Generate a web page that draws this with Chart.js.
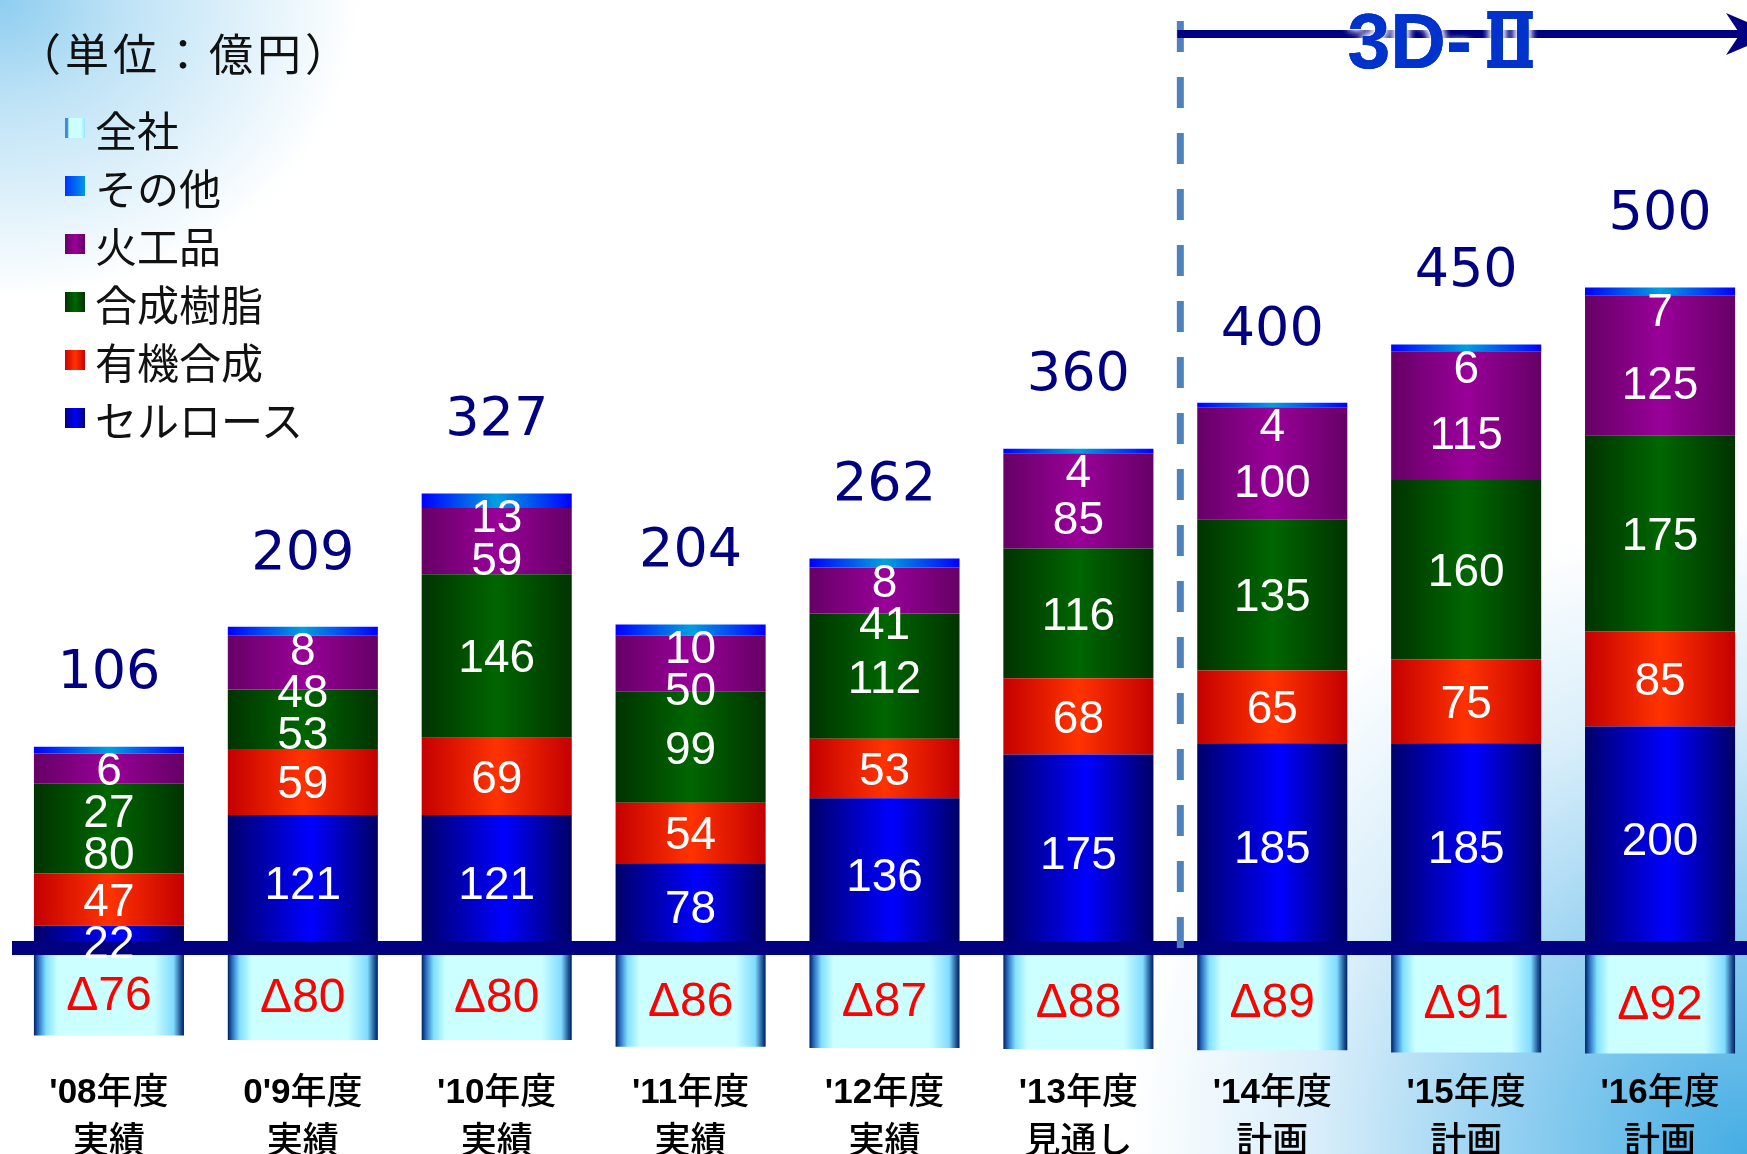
<!DOCTYPE html>
<html lang="ja">
<head>
<meta charset="UTF-8" />
<title>セグメント別営業利益</title>
<script src="https://cdn.jsdelivr.net/npm/chart.js"></script>
<style>
* { box-sizing: border-box; }
html, body { margin: 0; padding: 0; }
body {
    width: 1747px;
    height: 1154px;
    overflow: hidden;
    position: relative;
    background:
        radial-gradient(ellipse 360px 300px at 0 0, #8ecdf0 0%, #bfe3f6 35%, rgba(255,255,255,0) 100%),
        radial-gradient(ellipse 620px 640px at 100% 100%, #45ade3 0%, #8ccdf0 35%, #d9eefa 70%, rgba(255,255,255,0) 100%),
        #fff;
    font-family: 'Noto Sans CJK JP', sans-serif;
}
#wrap { position: absolute; left: 0; top: 0; width: 1760px; height: 1154px; }
.unit {
    position: absolute;
    left: 17px;
    top: 22px;
    font-size: 44px;
    letter-spacing: 4px;
    line-height: 60px;
    color: #111;
    white-space: nowrap;
}
.legend { position: absolute; left: 65px; top: 99px; }
.legend div {
    height: 58px;
    display: flex;
    align-items: center;
    font-size: 42px;
    color: #111;
    white-space: nowrap;
}
.legend span { display: inline-block; width: 20px; height: 20px; margin-right: 10px; }
</style>
</head>
<body>

<div id="wrap"><canvas id="chart" width="1760" height="1154"></canvas></div>

<div class="unit">（単位：億円）</div>
<div class="legend" id="legend"></div>

<script>
// data (億円)
const categories = [["'08年度", "実績"], ["0'9年度", "実績"], ["'10年度", "実績"], ["'11年度", "実績"],
    ["'12年度", "実績"], ["'13年度", "見通し"], ["'14年度", "計画"], ["'15年度", "計画"], ["'16年度", "計画"]];
const cellulose  = [22, 121, 121, 78, 136, 175, 185, 185, 200];
const organic    = [47, 59, 69, 54, 53, 68, 65, 75, 85];
const resin      = [80, 53, 146, 99, 112, 116, 135, 160, 175];
const explosives = [27, 48, 59, 50, 41, 85, 100, 115, 125];
const others     = [6, 8, 13, 10, 8, 4, 4, 6, 7];
const corporate  = [-76, -80, -80, -86, -87, -88, -89, -91, -92];
const totals     = [106, 209, 327, 204, 262, 360, 400, 450, 500];

const BAR_PCT = 0.774;

// horizontal "cylinder" shading for each series
const shades = {
    cellulose:  [[0, '#00006a'], [0.55, '#0000ff'], [1, '#000066']],
    organic:    [[0, '#c40000'], [0.5, '#ff3300'], [1, '#c40000']],
    resin:      [[0, '#003300'], [0.5, '#006600'], [1, '#003300']],
    explosives: [[0, '#660066'], [0.5, '#990099'], [1, '#660066']],
    others:     [[0, '#0000ff'], [0.5, '#00a0e0'], [1, '#0000ff']],
    corporate:  [[0, '#002060'], [0.03, '#2a6fc0'], [0.08, '#80e0ff'], [0.16, '#ccffff'],
                 [0.8, '#ccffff'], [0.93, '#80dcff'], [0.98, '#1a4f90'], [1, '#002060']]
};

function barFill(stops) {
    return (ctx) => {
        const chart = ctx.chart;
        const xs = chart.scales.x;
        if (ctx.type !== 'data' || !chart.chartArea || !xs) return stops[1][1];
        const cx = xs.getPixelForValue(ctx.dataIndex);
        const half = xs.width / categories.length * BAR_PCT / 2;
        const g = chart.ctx.createLinearGradient(cx - half, 0, cx + half, 0);
        stops.forEach(([o, col]) => g.addColorStop(o, col));
        return g;
    };
}

const positive = [cellulose, organic, resin, explosives, others];
const nudge = [0, 0, 0, 17, 0];

const overlay = {
    id: 'overlay',
    afterDatasetsDraw(chart) {
        const c = chart.ctx;
        const xs = chart.scales.x, ys = chart.scales.y;
        const zero = ys.getPixelForValue(0);
        c.save();

        // thick zero axis
        c.fillStyle = '#000080';
        c.fillRect(12, zero - 9.5, 1747 - 12, 14);

        // segment labels, laid out from the top of each bar downwards
        c.fillStyle = '#fff';
        c.textAlign = 'center';
        c.textBaseline = 'alphabetic';
        c.font = '46px "Liberation Sans", Arial, sans-serif';
        categories.forEach((_, j) => {
            const topEl = chart.getDatasetMeta(4).data[j];
            let prev = 0;
            [4, 3, 2, 1, 0].forEach(d => {
                const el = chart.getDatasetMeta(d).data[j];
                const mid = (el.y + el.base) / 2;
                const y = d === 4 ? topEl.y + 22 : Math.max(mid + nudge[d], prev + 42);
                prev = y;
                c.fillText(String(positive[d][j]), el.x, y + 16.5);
            });
        });

        // corporate (negative) labels
        c.fillStyle = '#ff0000';
        c.font = '48px "Liberation Sans", Arial, sans-serif';
        chart.getDatasetMeta(5).data.forEach((el, j) => {
            const mid = (el.y + el.base) / 2;
            c.fillText('Δ' + Math.abs(corporate[j]), el.x, mid + 17);
        });

        // totals above bars
        c.fillStyle = '#000080';
        c.font = '54px "DejaVu Sans", sans-serif';
        chart.getDatasetMeta(4).data.forEach((el, j) => {
            c.fillText(String(totals[j]), el.x, el.y - 78 + 19.7);
        });

        // category labels: bold year + gothic kanji
        c.fillStyle = '#000';
        categories.forEach((lines, j) => {
            const x = xs.getPixelForValue(j);
            const m = lines[0].match(/^([^\u3000-\u9fff]*)(.*)$/);
            const boldFont = 'bold 35px "Liberation Sans", Arial, sans-serif';
            const jpFont = '500 36px "Noto Sans CJK JP", sans-serif';
            c.font = boldFont;
            const w1 = c.measureText(m[1]).width;
            c.font = jpFont;
            const w2 = c.measureText(m[2]).width;
            let left = x - (w1 + w2) / 2;
            c.textAlign = 'left';
            c.font = boldFont;
            c.fillText(m[1], left, 1102.5);
            c.font = jpFont;
            c.fillText(m[2], left + w1, 1103.5);
            c.textAlign = 'center';
            c.fillText(lines[1], x, 1152.5);
        });

        // 3D-II period marker
        const xd = (xs.getPixelForValue(5) + xs.getPixelForValue(6)) / 2 + 5;
        c.strokeStyle = '#4f81bd';
        c.lineWidth = 7;
        c.setLineDash([31, 25]);
        c.beginPath();
        c.moveTo(xd, 21);
        c.lineTo(xd, 948);
        c.stroke();
        c.setLineDash([]);

        c.strokeStyle = '#000080';
        c.lineWidth = 8;
        c.beginPath();
        c.moveTo(xd - 3, 34);
        c.lineTo(1745, 34);
        c.stroke();
        c.fillStyle = '#000080';
        c.beginPath();
        c.moveTo(1775, 34);
        c.lineTo(1726, 13);
        c.lineTo(1740, 34);
        c.lineTo(1726, 55);
        c.closePath();
        c.fill();

        // title: "3D-" in bold sans, roman numeral with top and bottom bars
        const base = 68;
        c.textAlign = 'left';
        c.font = 'bold 77px "Liberation Sans", "Noto Sans CJK JP", sans-serif';
        const wa = c.measureText('3D-').width;
        const mb = c.measureText('Ⅱ');
        const tx = 1448 - (wa + mb.width) / 2;
        const inkL = tx + wa - mb.actualBoundingBoxLeft - 4;
        const inkW = mb.actualBoundingBoxLeft + mb.actualBoundingBoxRight + 8;
        const top = base - mb.actualBoundingBoxAscent;
        c.fillStyle = '#0033cc';
        c.shadowColor = 'rgba(255,255,255,0.95)';
        for (let k = 0; k < 4; k++) {
            c.shadowBlur = k < 3 ? 8 : 0;
            c.fillText('3D-', tx, base);
            c.fillText('Ⅱ', tx + wa, base);
            c.fillRect(inkL, top, inkW, 8);
            c.fillRect(inkL, base - 8, inkW, 8);
        }

        c.restore();
    }
};

const seriesMeta = [
    { label: 'セルロース', data: cellulose, fill: shades.cellulose },
    { label: '有機合成', data: organic, fill: shades.organic },
    { label: '合成樹脂', data: resin, fill: shades.resin },
    { label: '火工品', data: explosives, fill: shades.explosives },
    { label: 'その他', data: others, fill: shades.others },
    { label: '全社', data: corporate, fill: shades.corporate }
];

new Chart(document.getElementById('chart'), {
    type: 'bar',
    data: {
        labels: categories,
        datasets: seriesMeta.map(s => ({
            label: s.label,
            data: s.data,
            backgroundColor: barFill(s.fill),
            borderWidth: 0,
            barPercentage: BAR_PCT,
            categoryPercentage: 1
        }))
    },
    options: {
        responsive: false,
        animation: false,
        layout: { padding: { left: 12, right: 3, top: 0, bottom: 0 } },
        plugins: { legend: { display: false }, tooltip: { enabled: false } },
        scales: {
            x: { stacked: true, display: false },
            y: { stacked: true, display: false, min: -181.7, max: 848.7 }
        }
    },
    plugins: [overlay]
});

// legend (top to bottom, reverse of stacking order)
const legendSwatch = {
    '全社': 'linear-gradient(90deg, #3a8fd8 0 12%, #ccffff 20% 80%, #99e6ff 100%)',
    'その他': 'linear-gradient(90deg, #0033ff, #0099e6)',
    '火工品': 'linear-gradient(90deg, #660066, #990099, #660066)',
    '合成樹脂': 'linear-gradient(90deg, #003300, #006600, #003300)',
    '有機合成': 'linear-gradient(90deg, #cc0000, #ff3300, #cc0000)',
    'セルロース': 'linear-gradient(90deg, #000080, #0000ff, #000080)'
};
const legend = document.getElementById('legend');
seriesMeta.slice().reverse().forEach(s => {
    const row = document.createElement('div');
    row.innerHTML = `<span style="background:${legendSwatch[s.label]}"></span>${s.label}`;
    legend.appendChild(row);
});
</script>
</body>
</html>
